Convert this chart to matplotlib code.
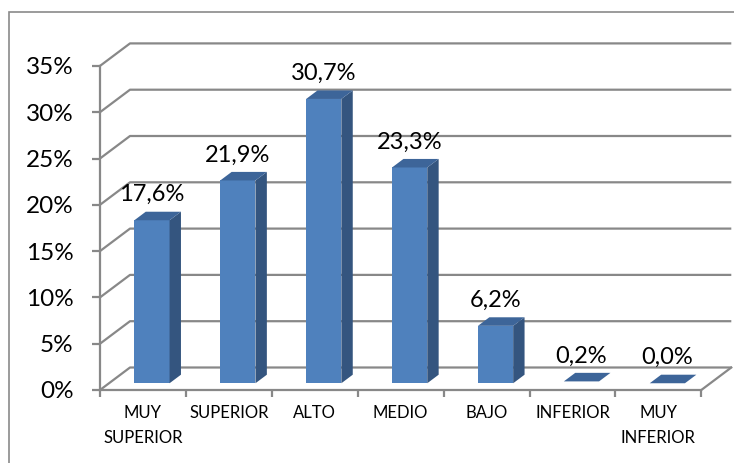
import matplotlib
matplotlib.use("Agg")
import matplotlib.pyplot as plt
from matplotlib.patches import Polygon, Rectangle

plt.rcParams['font.family'] = ['Lato', 'DejaVu Sans']

categories = ["MUY\nSUPERIOR", "SUPERIOR", "ALTO", "MEDIO", "BAJO", "INFERIOR", "MUY\nINFERIOR"]
values = [17.6, 21.9, 30.7, 23.3, 6.2, 0.2, 0.0]
y_ticks = [0, 5, 10, 15, 20, 25, 30, 35]
y_tick_labels = ["0%", "5%", "10%", "15%", "20%", "25%", "30%", "35%"]

W, H = 734, 463
fig = plt.figure(figsize=(W / 100, H / 100), dpi=100)

# pixel geometry of the front plane
x0_px, y0_px = 100, 390
px_per_cat = 85.9
px_per_pct = 9.26
XMAX, YMAX = 7.36, 38.0
ax = fig.add_axes([x0_px / W, (H - y0_px) / H,
                   XMAX * px_per_cat / W, YMAX * px_per_pct / H])
ax.set_xlim(0, XMAX)
ax.set_ylim(0, YMAX)
ax.patch.set_alpha(0)

DX = 30 / px_per_cat      # depth offset in category units
DY = 22.5 / px_per_pct    # depth offset in percent units

grid_c = "#888888"
lw = 1.6

for s in ["top", "right"]:
    ax.spines[s].set_visible(False)
ax.spines["left"].set_bounds(0, 35)
ax.spines["bottom"].set_bounds(0, len(values))
for s in ["left", "bottom"]:
    ax.spines[s].set_color(grid_c)
    ax.spines[s].set_linewidth(lw)

ax.set_yticks(y_ticks)
ax.set_yticklabels(y_tick_labels, fontsize=17.5)
ax.tick_params(axis="y", direction="out", length=6, width=lw, color=grid_c, pad=13)
ax.set_xticks(range(len(values) + 1))
ax.set_xticklabels([])
ax.tick_params(axis="x", direction="out", length=5, width=lw, color=grid_c)

n = len(values)
# gridlines (side wall + back wall)
for y in y_ticks:
    ax.plot([0, DX, n + DX], [y, y + DY, y + DY], color=grid_c, lw=lw,
            solid_capstyle="butt", zorder=1, clip_on=False)
# floor right edge
ax.plot([n, n + DX], [0, DY], color=grid_c, lw=lw, zorder=1, clip_on=False)

front_c = "#4F81BD"
side_c = "#34557F"
top_c = "#3D6599"
w = 0.205
d0, d1 = 0.30, 0.68

for i, v in enumerate(values):
    c = i + 0.5
    xl0, xr0 = c - w + d0 * DX, c + w + d0 * DX
    xl1, xr1 = c - w + d1 * DX, c + w + d1 * DX
    yb0, yb1 = d0 * DY, d1 * DY
    if v > 0.3:
        ax.add_patch(Polygon([(xl0, yb0), (xr0, yb0), (xr0, yb0 + v), (xl0, yb0 + v)],
                             closed=True, facecolor=front_c, edgecolor="none", zorder=3))
        ax.add_patch(Polygon([(xr0, yb0), (xr1, yb1), (xr1, yb1 + v), (xr0, yb0 + v)],
                             closed=True, facecolor=side_c, edgecolor="none", zorder=3))
    ax.add_patch(Polygon([(xl0, yb0 + v), (xr0, yb0 + v), (xr1, yb1 + v), (xl1, yb1 + v)],
                         closed=True, facecolor=top_c, edgecolor="none", zorder=4))
    ax.annotate(f"{v:.1f}%".replace(".", ","), xy=(c + d0 * DX, yb0 + v),
                xytext=(0, 13.7), textcoords="offset points", ha="center",
                va="baseline", fontsize=17, color="black", annotation_clip=False, zorder=5)
    ax.annotate(categories[i], xy=(c, 0), xytext=(0, -11), textcoords="offset points",
                ha="center", va="top", fontsize=12, linespacing=1.65,
                color="black", annotation_clip=False)

# outer chart border
fig.patches.append(Rectangle((9 / W, -0.05), 1.1, (H - 12) / H + 0.05,
                             transform=fig.transFigure, fill=False,
                             edgecolor="#8a8a8a", lw=1.2))

fig.savefig("out.png", dpi=100)
